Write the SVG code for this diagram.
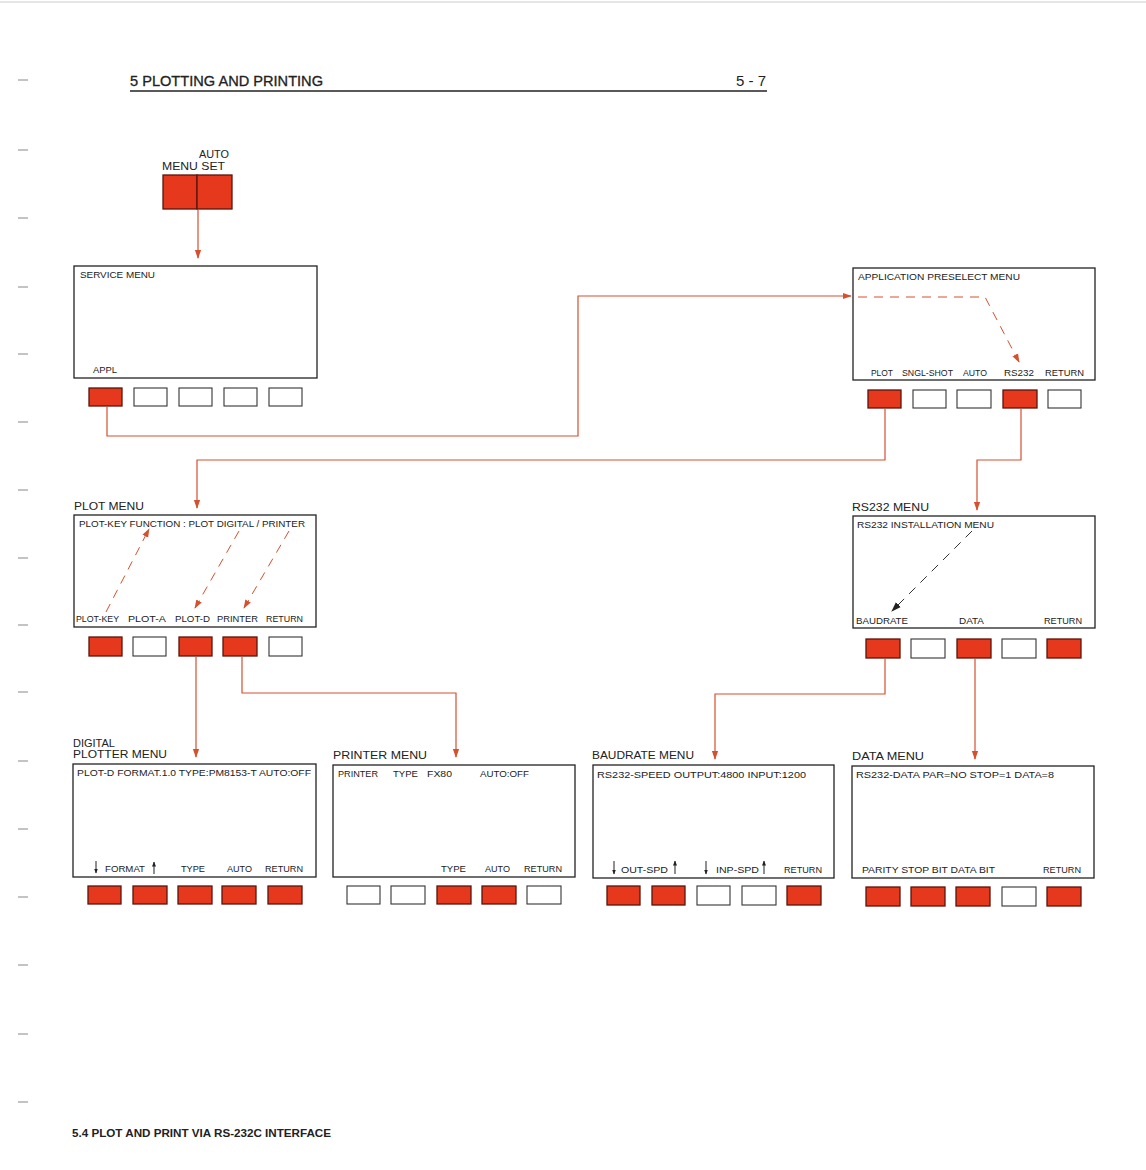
<svg xmlns="http://www.w3.org/2000/svg" width="1146" height="1170" viewBox="0 0 1146 1170">
<style>
text{font-family:"Liberation Sans",Arial,sans-serif;fill:#222}
.t{font-size:9.5px}
.l{font-size:11px}
.h{font-size:14px}
.box{fill:#fff;stroke:#222;stroke-width:1.3}
.kr{fill:#e5381c;stroke:#5a150c;stroke-width:1.3}
.kw{fill:#fff;stroke:#333;stroke-width:1.1}
.c{fill:none;stroke:#d4502f;stroke-width:1.2}
.dr{fill:none;stroke:#d4502f;stroke-width:1;stroke-dasharray:9 7}
.db{fill:none;stroke:#333;stroke-width:1;stroke-dasharray:9 7}
.tk{stroke:#888;stroke-width:1}
.ar{stroke:#222;stroke-width:1}
</style>
<defs>
<marker id="ar" viewBox="0 0 10 10" refX="9" refY="5" markerWidth="9" markerHeight="9" orient="auto-start-reverse" markerUnits="userSpaceOnUse"><path d="M0,1.5 L10,5 L0,8.5 z" fill="#d4502f"/></marker>
<marker id="ab" viewBox="0 0 10 10" refX="9" refY="5" markerWidth="10" markerHeight="10" orient="auto" markerUnits="userSpaceOnUse"><path d="M0,1.5 L10,5 L0,8.5 z" fill="#222"/></marker>
<marker id="sa" viewBox="0 0 10 10" refX="9" refY="5" markerWidth="5" markerHeight="5" orient="auto" markerUnits="userSpaceOnUse"><path d="M0,1 L10,5 L0,9 z" fill="#222"/></marker>
</defs>
<rect width="1146" height="1170" fill="#fff"/>
<line x1="0" y1="2" x2="1146" y2="2" stroke="#ccc" stroke-width="1"/>
<g id="margin">
<line class="tk" x1="18" y1="80" x2="28" y2="80"/><line class="tk" x1="18" y1="150" x2="28" y2="150"/><line class="tk" x1="18" y1="218" x2="28" y2="218"/><line class="tk" x1="18" y1="287" x2="28" y2="287"/><line class="tk" x1="18" y1="354" x2="28" y2="354"/><line class="tk" x1="18" y1="422" x2="28" y2="422"/><line class="tk" x1="18" y1="490" x2="28" y2="490"/><line class="tk" x1="18" y1="558" x2="28" y2="558"/><line class="tk" x1="18" y1="625" x2="28" y2="625"/><line class="tk" x1="18" y1="692" x2="28" y2="692"/><line class="tk" x1="18" y1="761" x2="28" y2="761"/><line class="tk" x1="18" y1="829" x2="28" y2="829"/><line class="tk" x1="18" y1="897" x2="28" y2="897"/><line class="tk" x1="18" y1="965" x2="28" y2="965"/><line class="tk" x1="18" y1="1034" x2="28" y2="1034"/><line class="tk" x1="18" y1="1102" x2="28" y2="1102"/>
</g>
<g id="header">
<text class="h" x="130" y="86" textLength="193" lengthAdjust="spacingAndGlyphs" stroke="#222" stroke-width="0.3">5 PLOTTING AND PRINTING</text>
<text class="h" x="736" y="86" textLength="30" lengthAdjust="spacingAndGlyphs">5 - 7</text>
<line x1="130" y1="91" x2="767" y2="91" stroke="#222" stroke-width="1.6"/>
</g>
<g id="connectors">
<line class="c" x1="198" y1="210" x2="198" y2="258" marker-end="url(#ar)"/>
<polyline class="c" points="107,407 107,436 578,436 578,296 851,296" marker-end="url(#ar)"/>
<polyline class="c" points="885,409 885,460 197,460 197,508" marker-end="url(#ar)"/>
<polyline class="c" points="1021,409 1021,460 977,460 977,510" marker-end="url(#ar)"/>
<line class="c" x1="196" y1="657" x2="196" y2="757" marker-end="url(#ar)"/>
<polyline class="c" points="242,657 242,693 456,693 456,757" marker-end="url(#ar)"/>
<polyline class="c" points="885,659 885,694 715,694 715,759" marker-end="url(#ar)"/>
<line class="c" x1="975" y1="659" x2="975" y2="759" marker-end="url(#ar)"/>
</g>
<g id="menu-keys">
<text class="l" x="199" y="158" textLength="30" lengthAdjust="spacingAndGlyphs">AUTO</text>
<text class="l" x="162" y="170" textLength="63" lengthAdjust="spacingAndGlyphs">MENU SET</text>
<rect class="kr" x="163" y="175" width="34" height="34"/>
<rect class="kr" x="197" y="175" width="35" height="34"/>
</g>
<g id="service-menu">
<rect class="box" x="74" y="266" width="243" height="112"/>
<text class="t" x="80" y="278" textLength="75" lengthAdjust="spacingAndGlyphs">SERVICE MENU</text>
<text class="t" x="93" y="373" textLength="24" lengthAdjust="spacingAndGlyphs">APPL</text>
<rect class="kr" x="89" y="388" width="33" height="18"/>
<rect class="kw" x="134" y="388" width="33" height="18"/>
<rect class="kw" x="179" y="388" width="33" height="18"/>
<rect class="kw" x="224" y="388" width="33" height="18"/>
<rect class="kw" x="269" y="388" width="33" height="18"/>
</g>
<g id="application-preselect-menu">
<rect class="box" x="853" y="268" width="242" height="112"/>
<text class="t" x="858" y="280" textLength="162" lengthAdjust="spacingAndGlyphs">APPLICATION PRESELECT MENU</text>
<polyline class="dr" points="858,297 985,297 1019,362" marker-end="url(#ar)"/>
<text class="t" x="871" y="376" textLength="22" lengthAdjust="spacingAndGlyphs">PLOT</text>
<text class="t" x="902" y="376" textLength="51" lengthAdjust="spacingAndGlyphs">SNGL-SHOT</text>
<text class="t" x="963" y="376" textLength="24" lengthAdjust="spacingAndGlyphs">AUTO</text>
<text class="t" x="1004" y="376" textLength="30" lengthAdjust="spacingAndGlyphs">RS232</text>
<text class="t" x="1045" y="376" textLength="39" lengthAdjust="spacingAndGlyphs">RETURN</text>
<rect class="kr" x="868" y="390" width="33" height="18"/>
<rect class="kw" x="913" y="390" width="33" height="18"/>
<rect class="kw" x="957" y="390" width="34" height="18"/>
<rect class="kr" x="1003" y="390" width="34" height="18"/>
<rect class="kw" x="1048" y="390" width="33" height="18"/>
</g>
<g id="plot-menu">
<text class="l" x="74" y="510" textLength="70" lengthAdjust="spacingAndGlyphs">PLOT MENU</text>
<rect class="box" x="74" y="515" width="242" height="112"/>
<text class="t" x="79" y="527" textLength="226" lengthAdjust="spacingAndGlyphs">PLOT-KEY FUNCTION : PLOT DIGITAL / PRINTER</text>
<line class="dr" x1="106" y1="612" x2="149" y2="529" marker-end="url(#ar)"/>
<line class="dr" x1="239" y1="531" x2="195" y2="608" marker-end="url(#ar)"/>
<line class="dr" x1="289" y1="531" x2="244" y2="608" marker-end="url(#ar)"/>
<text class="t" x="76" y="622" textLength="43" lengthAdjust="spacingAndGlyphs">PLOT-KEY</text>
<text class="t" x="128" y="622" textLength="38" lengthAdjust="spacingAndGlyphs">PLOT-A</text>
<text class="t" x="175" y="622" textLength="35" lengthAdjust="spacingAndGlyphs">PLOT-D</text>
<text class="t" x="217" y="622" textLength="41" lengthAdjust="spacingAndGlyphs">PRINTER</text>
<text class="t" x="266" y="622" textLength="37" lengthAdjust="spacingAndGlyphs">RETURN</text>
<rect class="kr" x="89" y="637" width="33" height="19"/>
<rect class="kw" x="133" y="637" width="33" height="19"/>
<rect class="kr" x="179" y="637" width="33" height="19"/>
<rect class="kr" x="223" y="637" width="34" height="19"/>
<rect class="kw" x="269" y="637" width="33" height="19"/>
</g>
<g id="rs232-menu">
<text class="l" x="852" y="511" textLength="77" lengthAdjust="spacingAndGlyphs">RS232 MENU</text>
<rect class="box" x="853" y="516" width="242" height="112"/>
<text class="t" x="857" y="528" textLength="137" lengthAdjust="spacingAndGlyphs">RS232 INSTALLATION MENU</text>
<line class="db" x1="972" y1="531" x2="892" y2="611" marker-end="url(#ab)"/>
<text class="t" x="856" y="624" textLength="52" lengthAdjust="spacingAndGlyphs">BAUDRATE</text>
<text class="t" x="959" y="624" textLength="25" lengthAdjust="spacingAndGlyphs">DATA</text>
<text class="t" x="1044" y="624" textLength="38" lengthAdjust="spacingAndGlyphs">RETURN</text>
<rect class="kr" x="866" y="639" width="34" height="19"/>
<rect class="kw" x="911" y="639" width="34" height="19"/>
<rect class="kr" x="957" y="639" width="34" height="19"/>
<rect class="kw" x="1002" y="639" width="34" height="19"/>
<rect class="kr" x="1047" y="639" width="34" height="19"/>
</g>
<g id="digital-plotter-menu">
<text class="l" x="73" y="747" textLength="42" lengthAdjust="spacingAndGlyphs">DIGITAL</text>
<text class="l" x="73" y="758" textLength="94" lengthAdjust="spacingAndGlyphs">PLOTTER MENU</text>
<rect class="box" x="73" y="764" width="243" height="113"/>
<text class="t" x="77" y="776" textLength="234" lengthAdjust="spacingAndGlyphs">PLOT-D FORMAT.1.0 TYPE:PM8153-T AUTO:OFF</text>
<line class="ar" x1="96" y1="861" x2="96" y2="873" marker-end="url(#sa)"/>
<line class="ar" x1="154" y1="874" x2="154" y2="862" marker-end="url(#sa)"/>
<text class="t" x="105" y="872" textLength="40" lengthAdjust="spacingAndGlyphs">FORMAT</text>
<text class="t" x="181" y="872" textLength="24" lengthAdjust="spacingAndGlyphs">TYPE</text>
<text class="t" x="227" y="872" textLength="25" lengthAdjust="spacingAndGlyphs">AUTO</text>
<text class="t" x="265" y="872" textLength="38" lengthAdjust="spacingAndGlyphs">RETURN</text>
<rect class="kr" x="88" y="886" width="33" height="18"/>
<rect class="kr" x="133" y="886" width="34" height="18"/>
<rect class="kr" x="178" y="886" width="34" height="18"/>
<rect class="kr" x="222" y="886" width="34" height="18"/>
<rect class="kr" x="268" y="886" width="34" height="18"/>
</g>
<g id="printer-menu">
<text class="l" x="333" y="759" textLength="94" lengthAdjust="spacingAndGlyphs">PRINTER MENU</text>
<rect class="box" x="333" y="765" width="242" height="112"/>
<text class="t" x="338" y="777" textLength="40" lengthAdjust="spacingAndGlyphs">PRINTER</text>
<text class="t" x="393" y="777" textLength="25" lengthAdjust="spacingAndGlyphs">TYPE</text>
<text class="t" x="427" y="777" textLength="25" lengthAdjust="spacingAndGlyphs">FX80</text>
<text class="t" x="480" y="777" textLength="49" lengthAdjust="spacingAndGlyphs">AUTO:OFF</text>
<text class="t" x="441" y="872" textLength="25" lengthAdjust="spacingAndGlyphs">TYPE</text>
<text class="t" x="485" y="872" textLength="25" lengthAdjust="spacingAndGlyphs">AUTO</text>
<text class="t" x="524" y="872" textLength="38" lengthAdjust="spacingAndGlyphs">RETURN</text>
<rect class="kw" x="347" y="886" width="33" height="18"/>
<rect class="kw" x="391" y="886" width="34" height="18"/>
<rect class="kr" x="437" y="886" width="34" height="18"/>
<rect class="kr" x="482" y="886" width="34" height="18"/>
<rect class="kw" x="527" y="886" width="34" height="18"/>
</g>
<g id="baudrate-menu">
<text class="l" x="592" y="759" textLength="102" lengthAdjust="spacingAndGlyphs">BAUDRATE MENU</text>
<rect class="box" x="593" y="765" width="241" height="113"/>
<text class="t" x="597" y="778" textLength="209" lengthAdjust="spacingAndGlyphs">RS232-SPEED OUTPUT:4800 INPUT:1200</text>
<line class="ar" x1="614" y1="861" x2="614" y2="874" marker-end="url(#sa)"/>
<text class="t" x="621" y="873" textLength="47" lengthAdjust="spacingAndGlyphs">OUT-SPD</text>
<line class="ar" x1="675" y1="874" x2="675" y2="861" marker-end="url(#sa)"/>
<line class="ar" x1="706" y1="861" x2="706" y2="874" marker-end="url(#sa)"/>
<text class="t" x="716" y="873" textLength="43" lengthAdjust="spacingAndGlyphs">INP-SPD</text>
<line class="ar" x1="764" y1="874" x2="764" y2="861" marker-end="url(#sa)"/>
<text class="t" x="784" y="873" textLength="38" lengthAdjust="spacingAndGlyphs">RETURN</text>
<rect class="kr" x="607" y="886" width="33" height="19"/>
<rect class="kr" x="652" y="886" width="33" height="19"/>
<rect class="kw" x="697" y="886" width="33" height="19"/>
<rect class="kw" x="742" y="886" width="34" height="19"/>
<rect class="kr" x="787" y="886" width="34" height="19"/>
</g>
<g id="data-menu">
<text class="l" x="852" y="760" textLength="72" lengthAdjust="spacingAndGlyphs">DATA MENU</text>
<rect class="box" x="852" y="766" width="242" height="112"/>
<text class="t" x="856" y="778" textLength="198" lengthAdjust="spacingAndGlyphs">RS232-DATA PAR=NO STOP=1 DATA=8</text>
<text class="t" x="862" y="873" textLength="133" lengthAdjust="spacingAndGlyphs">PARITY STOP BIT DATA BIT</text>
<text class="t" x="1043" y="873" textLength="38" lengthAdjust="spacingAndGlyphs">RETURN</text>
<rect class="kr" x="866" y="887" width="34" height="19"/>
<rect class="kr" x="911" y="887" width="34" height="19"/>
<rect class="kr" x="956" y="887" width="34" height="19"/>
<rect class="kw" x="1002" y="887" width="34" height="19"/>
<rect class="kr" x="1047" y="887" width="34" height="19"/>
</g>
<g id="caption">
<text x="72" y="1137" font-size="11" font-weight="bold" textLength="259" lengthAdjust="spacingAndGlyphs">5.4 PLOT AND PRINT VIA RS-232C INTERFACE</text>
</g>
</svg>
